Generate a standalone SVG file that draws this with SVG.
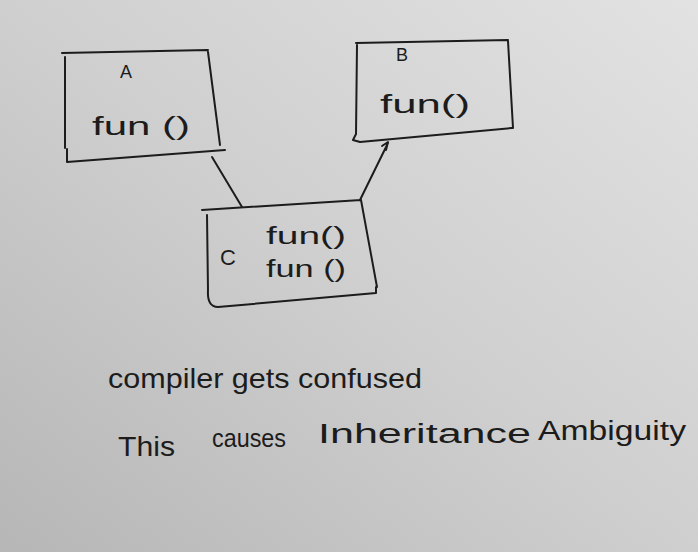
<svg xmlns="http://www.w3.org/2000/svg" width="698" height="552" viewBox="0 0 698 552">
<defs>
<linearGradient id="paper" x1="1" y1="0" x2="0" y2="1">
<stop offset="0" stop-color="#e2e2e2"/>
<stop offset="0.5" stop-color="#cfcfcf"/>
<stop offset="1" stop-color="#b6b6b6"/>
</linearGradient>
<style>
.ink{fill:none;stroke:#1c1c1c;stroke-width:2;stroke-linecap:round;stroke-linejoin:round}
.t{font-family:"Liberation Sans","DejaVu Sans",sans-serif;fill:#1c1c1c}
</style>
</defs>
<rect width="698" height="552" fill="url(#paper)"/>
<g id="A">
<path class="ink" d="M62,53 L208,50 M65,57 L65,148 M67,149 L67,162 L225,150 M208,52 L220,145"/>
<text class="t" x="120" y="78" font-size="18">A</text>
<text class="t" x="92" y="135" font-size="26" textLength="98" lengthAdjust="spacingAndGlyphs">fun ()</text>
</g>
<g id="B">
<path class="ink" d="M356,43 L508,40 M357,45 L356,134 L353,140 L360,142 L512,128 M508,41 L513,128"/>
<text class="t" x="396" y="61" font-size="18">B</text>
<text class="t" x="380" y="113" font-size="26" textLength="90" lengthAdjust="spacingAndGlyphs">fun()</text>
</g>
<g id="C">
<path class="ink" d="M202,210 L361,200 M207,215 L208,290 Q207,307 218,307 L376,293 L376,287 M361,200 L377,287"/>
<text class="t" x="220" y="265" font-size="22">C</text>
<text class="t" x="266" y="244" font-size="23" textLength="80" lengthAdjust="spacingAndGlyphs">fun()</text>
<text class="t" x="266" y="277" font-size="23" textLength="80" lengthAdjust="spacingAndGlyphs">fun ()</text>
</g>
<g id="connectors">
<path class="ink" d="M212,157 L242,207"/>
<path class="ink" d="M360,200 L388,143 M382,146 L388,142 L386,150"/>
</g>
<g id="notes">
<text class="t" x="108" y="388" font-size="28" textLength="314" lengthAdjust="spacingAndGlyphs">compiler gets confused</text>
<text class="t" x="118" y="456" font-size="27" textLength="57" lengthAdjust="spacingAndGlyphs">This</text>
<text class="t" x="212" y="447" font-size="26" textLength="74" lengthAdjust="spacingAndGlyphs">causes</text>
<text class="t" x="318" y="443" font-size="27" textLength="213" lengthAdjust="spacingAndGlyphs">Inheritance</text>
<text class="t" x="538" y="440" font-size="27" textLength="148" lengthAdjust="spacingAndGlyphs">Ambiguity</text>
</g>
</svg>
